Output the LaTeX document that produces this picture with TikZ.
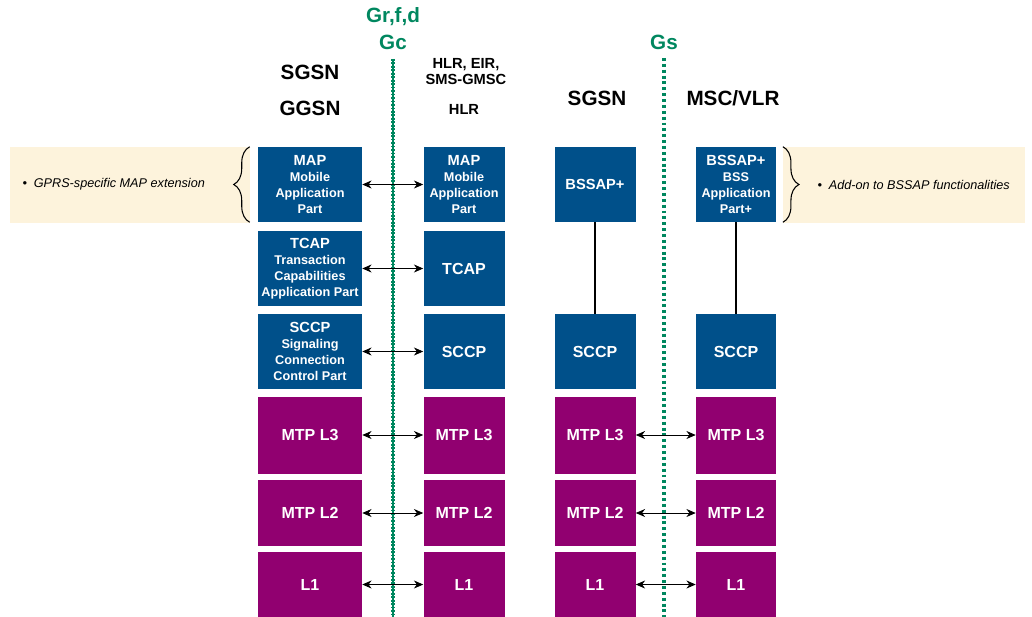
\documentclass[tikz,border=0pt]{standalone}
\usepackage{fontspec}
\setmainfont{Liberation Sans}
\usetikzlibrary{arrows.meta,decorations.pathreplacing}
\definecolor{sigblue}{HTML}{00508A}
\definecolor{mtppurple}{HTML}{910070}
\definecolor{ifgreen}{HTML}{00875F}
\definecolor{notebeige}{HTML}{FDF3DC}
\tikzset{
	layer/.style={fill=sigblue, text=white, align=center, inner sep=0pt,
		font=\bfseries\fontsize{9.5}{12}\selectfont},
	mtp/.style={layer, fill=mtppurple, font=\bfseries\fontsize{12}{14}\selectfont},
	peer/.style={{Stealth[length=7pt,width=6pt]}-{Stealth[length=7pt,width=6pt]}, semithick},
	title/.style={font=\bfseries\fontsize{15.5}{18}\selectfont},
	iface/.style={text=ifgreen, font=\bfseries\fontsize{15.5}{18}\selectfont},
	note/.style={anchor=west, font=\itshape\fontsize{9.5}{11}\selectfont}
}
\begin{document}
\begin{tikzpicture}[x=0.75pt,y=-0.75pt]
	\useasboundingbox (0,0) rectangle (1032,617);
	% notes
	\fill[notebeige] (10,147) rectangle (250,223);
	\fill[notebeige] (783,147) rectangle (1025,223);
	% interface lines
	\node[iface] (grfd) at (393,17) {Gr,f,d};
	\node[iface] (gc) at (393,42) {Gc};
	\node[iface] (gs) at (664,42) {Gs};
	\coordinate (gctop) at (393,59);
	\coordinate (gcend) at (393,617);
	\coordinate (gstop) at (664,58);
	\coordinate (gsend) at (664,617);
	\draw[ifgreen, line width=0.9pt] (gctop) -- (gcend);
	\draw[ifgreen, line width=3.5pt, dash pattern=on 1.3pt off 1.3pt] (gctop) -- (gcend);
	\draw[ifgreen, line width=3pt, dash pattern=on 2.2pt off 2.2pt] (gstop) -- (gsend);
	% titles
	\node[title] (sgsna) at (310,72) {SGSN};
	\node[title] (ggsn) at (310,108) {GGSN};
	\node[align=center, font=\bfseries\fontsize{11}{12}\selectfont] (hlreir) at (466,72) {HLR, EIR,\\SMS-GMSC};
	\node[font=\bfseries\fontsize{11}{12}\selectfont] (hlr) at (464,109) {HLR};
	\node[title] (sgsnc) at (597,98) {SGSN};
	\node[title] (mscvlr) at (733,98) {MSC/VLR};
	% blue layers
	\node[layer, minimum width=78pt, minimum height=56.25pt] (a1) at (310,184.5)
		{{\fontsize{11}{13}\selectfont MAP}\\Mobile\\Application\\Part};
	\node[layer, minimum width=78pt, minimum height=56.25pt] (a2) at (310,268.5)
		{{\fontsize{11}{13}\selectfont TCAP}\\Transaction\\Capabilities\\Application Part};
	\node[layer, minimum width=78pt, minimum height=56.25pt] (a3) at (310,351.5)
		{{\fontsize{11}{13}\selectfont SCCP}\\Signaling\\Connection\\Control Part};
	\node[layer, minimum width=60.75pt, minimum height=56.25pt] (b1) at (464,184.5)
		{{\fontsize{11}{13}\selectfont MAP}\\Mobile\\Application\\Part};
	\node[layer, minimum width=60.75pt, minimum height=56.25pt, font=\bfseries\fontsize{12}{14}\selectfont] (b2) at (464,268.5) {TCAP};
	\node[layer, minimum width=60.75pt, minimum height=56.25pt, font=\bfseries\fontsize{12}{14}\selectfont] (b3) at (464,351.5) {SCCP};
	\node[layer, minimum width=60.75pt, minimum height=56.25pt, font=\bfseries\fontsize{11}{13}\selectfont] (c1) at (595,184.5) {BSSAP+};
	\node[layer, minimum width=60.75pt, minimum height=56.25pt, font=\bfseries\fontsize{12}{14}\selectfont] (c3) at (595,351.5) {SCCP};
	\node[layer, minimum width=60pt, minimum height=56.25pt] (d1) at (736,184.5)
		{{\fontsize{11}{13}\selectfont BSSAP+}\\BSS\\Application\\Part+};
	\node[layer, minimum width=60pt, minimum height=56.25pt, font=\bfseries\fontsize{12}{14}\selectfont] (d3) at (736,351.5) {SCCP};
	% purple layers
	\foreach \i/\y/\h/\t in {4/435/57.75pt/MTP L3, 5/513/49.5pt/MTP L2, 6/584.5/48.75pt/L1} {
		\node[mtp, minimum width=78pt, minimum height=\h] (a\i) at (310,\y) {\t};
		\node[mtp, minimum width=60.75pt, minimum height=\h] (b\i) at (464,\y) {\t};
		\node[mtp, minimum width=60.75pt, minimum height=\h] (c\i) at (595,\y) {\t};
		\node[mtp, minimum width=60pt, minimum height=\h] (d\i) at (736,\y) {\t};
		\draw[peer] (c\i.east) -- (d\i.west);
	}
	\foreach \i in {1,...,6}
		\draw[peer] (a\i.east) -- (b\i.west);
	\draw[thick] (c1) -- (c3);
	\draw[thick] (d1) -- (d3);
	% braces and notes
	\draw[decorate, decoration={brace, amplitude=12pt}, thick]
		([xshift=-6pt]a1.south west) -- ([xshift=-6pt]a1.north west);
	\draw[decorate, decoration={brace, amplitude=12pt}, thick]
		([xshift=5pt]d1.north east) -- ([xshift=5pt]d1.south east);
	\node[note] (gprsnote) at (18,184.5) {\textbullet\hspace{5pt}GPRS-specific MAP extension};
	\node[note] (bssapnote) at (813,184.5) {\textbullet\hspace{5pt}Add-on to BSSAP functionalities};
\end{tikzpicture}
\end{document}
